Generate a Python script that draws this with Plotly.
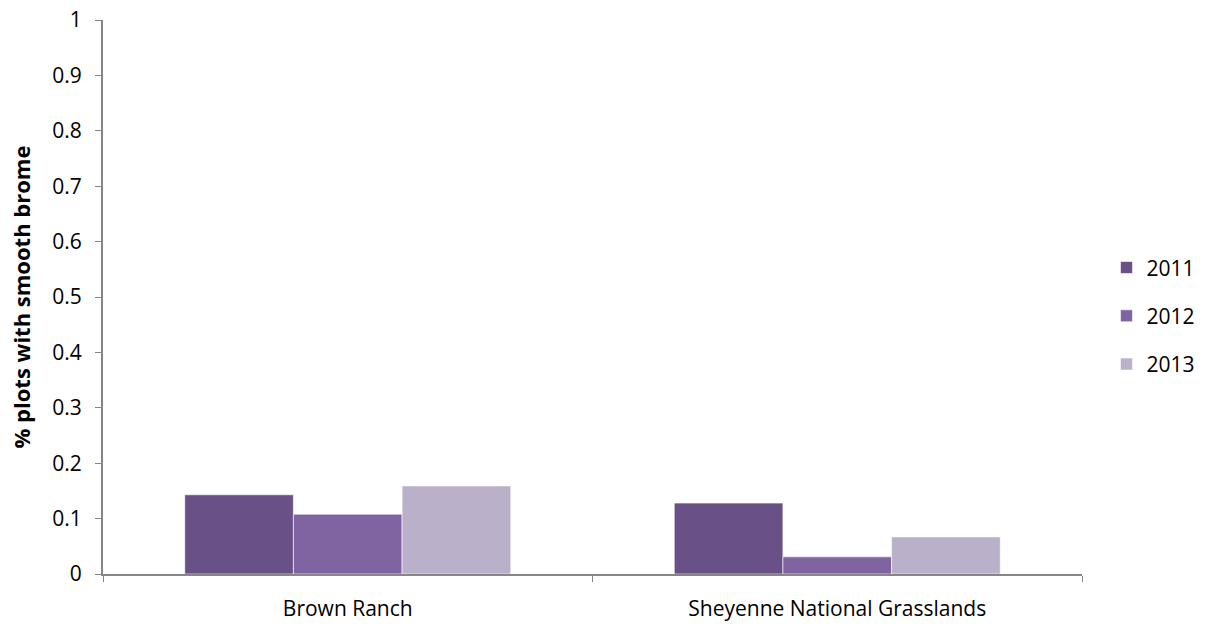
import plotly.graph_objects as go

sites = ["Brown Ranch", "Sheyenne National Grasslands"]
years = ["2011", "2012", "2013"]
values_2011 = [0.143, 0.128]
values_2012 = [0.108, 0.031]
values_2013 = [0.159, 0.067]
y_ticks = [0, 0.1, 0.2, 0.3, 0.4, 0.5, 0.6, 0.7, 0.8, 0.9, 1]
y_tick_text = ["0", "0.1", "0.2", "0.3", "0.4", "0.5", "0.6", "0.7", "0.8", "0.9", "1"]

colors = ["#695187", "#8064A2", "#BAB0CA"]
series = [values_2011, values_2012, values_2013]

font_family = "Open Sans, Noto Sans, Liberation Sans, sans-serif"

fig = go.Figure()
for name, vals, col in zip(years, series, colors):
    fig.add_trace(go.Bar(
        x=sites, y=vals, name=name, legendgroup=name,
        marker=dict(color=col, line=dict(color="rgba(255,255,255,0.6)", width=1)),
    ))

fig.update_layout(
    width=1213, height=625,
    margin=dict(l=103, r=131, t=20, b=51),
    paper_bgcolor="white", plot_bgcolor="white",
    barmode="group", bargap=0.334, bargroupgap=0,
    font=dict(family=font_family, size=21, color="#000000"),
    legend=dict(
        x=1.025, y=0.466, xanchor="left", yanchor="middle",
        traceorder="grouped", tracegroupgap=18,
        font=dict(size=21), itemwidth=30,
    ),
    showlegend=True,
)
fig.update_xaxes(
    showline=True, linecolor="#868686", linewidth=2,
    ticks="outside", tickson="boundaries", ticklen=6, tickcolor="#868686", tickwidth=1,
    showgrid=False, tickfont=dict(size=21), ticklabelstandoff=15,
    automargin=False,
)
fig.update_yaxes(
    range=[0, 1], tickvals=y_ticks, ticktext=y_tick_text,
    showline=True, linecolor="#868686", linewidth=2,
    ticks="outside", ticklen=6, tickcolor="#868686", tickwidth=1,
    showgrid=False, zeroline=False, tickfont=dict(size=21),
    ticklabelstandoff=9, automargin=False,
    title=dict(text="<b>% plots with smooth brome</b>", font=dict(size=22), standoff=16),
)

fig.write_html("out.html")
